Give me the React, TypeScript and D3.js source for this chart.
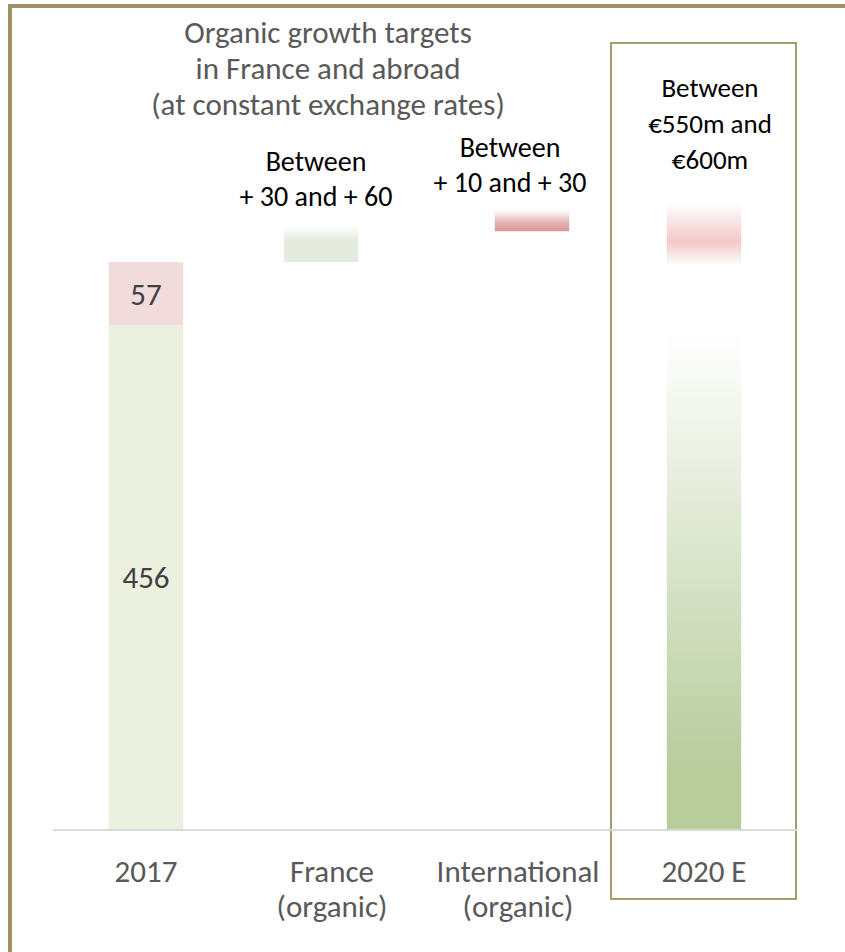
import React from "react";
import * as d3 from "d3";

const categories = ["2017", "France", "International", "2020 E"];
const categoryLines = [["2017"], ["France", "(organic)"], ["International", "(organic)"], ["2020 E"]];
const base2017 = 456;
const extra2017 = 57;
const franceRange = [513, 546];
const intlRange = [541, 560];
const target2020Green = 449;
const target2020Pink = [510, 566];
const titleLines = ["Organic growth targets", "in France and abroad", "(at constant exchange rates)"];
const franceNote = ["Between", "+ 30 and + 60"];
const intlNote = ["Between", "+ 10 and + 30"];
const target2020Note = ["Between", "€550m and", "€600m"];

const W = 845;
const H = 952;
const FONT = "Carlito, Calibri, 'Open Sans', sans-serif";

export default function App() {
  const x = d3.scaleBand<string>().domain(categories).range([53, 797]).paddingInner(0.6).paddingOuter(0.3);
  const y = d3.scaleLinear().domain([0, 700]).range([829, 829 - 700 * 1.105]);
  const bw = x.bandwidth();
  const cx = (c: string) => (x(c) as number) + bw / 2;
  const band = d3.scaleBand<string>().domain(categories).range([53, 797]);
  const lc = (c: string) => (band(c) as number) + band.bandwidth() / 2;
  const shift = [0, -11, 14, 0];

  return (
    <svg width={W} height={H} style={{ position: "absolute", left: 0, top: 0, background: "#fff" }} fontFamily={FONT}>
      <defs>
        <linearGradient id="gFr" x1="0" y1="0" x2="0" y2="1">
          <stop offset="0" stopColor="#e5ecdf" stopOpacity="0" />
          <stop offset="0.4" stopColor="#e5ecdf" stopOpacity="1" />
          <stop offset="1" stopColor="#e5ecdf" stopOpacity="1" />
        </linearGradient>
        <linearGradient id="gIn" x1="0" y1="0" x2="0" y2="1">
          <stop offset="0" stopColor="#dc9896" stopOpacity="0" />
          <stop offset="0.6" stopColor="#dc9896" stopOpacity="0.75" />
          <stop offset="1" stopColor="#dc9896" stopOpacity="1" />
        </linearGradient>
        <linearGradient id="gPk" x1="0" y1="0" x2="0" y2="1">
          <stop offset="0" stopColor="#f3c8c8" stopOpacity="0" />
          <stop offset="0.62" stopColor="#f3c8c8" stopOpacity="1" />
          <stop offset="1" stopColor="#f3c8c8" stopOpacity="0" />
        </linearGradient>
        <linearGradient id="gGr" x1="0" y1="0" x2="0" y2="1">
          <stop offset="0" stopColor="#b8cc9c" stopOpacity="0" />
          <stop offset="0.88" stopColor="#b8cc9c" stopOpacity="1" />
          <stop offset="1" stopColor="#b8cc9c" stopOpacity="1" />
        </linearGradient>
      </defs>
      <rect x={10} y={6} width={W + 20} height={H + 20} fill="#fff" stroke="#9d9461" strokeWidth={4} />

      {/* 2020 E highlight box */}
      <rect x={611} y={43} width={185} height={856} fill="none" stroke="#a39c6c" strokeWidth={2} />

      {/* title */}
      {titleLines.map((t, i) => (
        <text key={t} x={328} y={43 + i * 36} textAnchor="middle" fontSize={31} fill="#595959">{t}</text>
      ))}

      {/* 2017 bars */}
      <rect x={x("2017")} y={y(base2017)} width={bw} height={y(0) - y(base2017)} fill="#ebf0df" />
      <rect x={x("2017")} y={y(base2017 + extra2017)} width={bw} height={y(base2017) - y(base2017 + extra2017)} fill="#f2dcdb" />
      <text x={cx("2017")} y={(y(0) + y(base2017)) / 2 + 11} textAnchor="middle" fontSize={31} fill="#404040">{base2017}</text>
      <text x={cx("2017")} y={(y(base2017) + y(base2017 + extra2017)) / 2 + 11} textAnchor="middle" fontSize={31} fill="#404040">{extra2017}</text>

      {/* France */}
      <rect x={(x("France") as number) + shift[1]} y={y(franceRange[1])} width={bw} height={y(franceRange[0]) - y(franceRange[1])} fill="url(#gFr)" />
      {franceNote.map((t, i) => (
        <text key={t} x={cx("France") - 16} y={171 + i * 35} textAnchor="middle" fontSize={28} fill="#000">{t}</text>
      ))}

      {/* International */}
      <rect x={(x("International") as number) + shift[2]} y={y(intlRange[1])} width={bw} height={y(intlRange[0]) - y(intlRange[1])} fill="url(#gIn)" />
      {intlNote.map((t, i) => (
        <text key={t} x={cx("International") - 8} y={157 + i * 35} textAnchor="middle" fontSize={28} fill="#000">{t}</text>
      ))}

      {/* 2020 E */}
      <rect x={x("2020 E")} y={y(target2020Green)} width={bw} height={y(0) - y(target2020Green)} fill="url(#gGr)" />
      <rect x={x("2020 E")} y={y(target2020Pink[1])} width={bw} height={y(target2020Pink[0]) - y(target2020Pink[1])} fill="url(#gPk)" />
      {target2020Note.map((t, i) => (
        <text key={t} x={cx("2020 E") + 6} y={97 + i * 36} textAnchor="middle" fontSize={27} fill="#000">{t}</text>
      ))}

      {/* baseline */}
      <line x1={53} x2={797} y1={y(0) + 1} y2={y(0) + 1} stroke="#d9d9d9" strokeWidth={2} />

      {/* category labels */}
      {categories.map((c, i) => (
        <g key={c}>
          {categoryLines[i].map((t, j) => (
            <text key={t} x={lc(c)} y={882 + j * 35} textAnchor="middle" fontSize={31} fill="#595959">{t}</text>
          ))}
        </g>
      ))}
    </svg>
  );
}
